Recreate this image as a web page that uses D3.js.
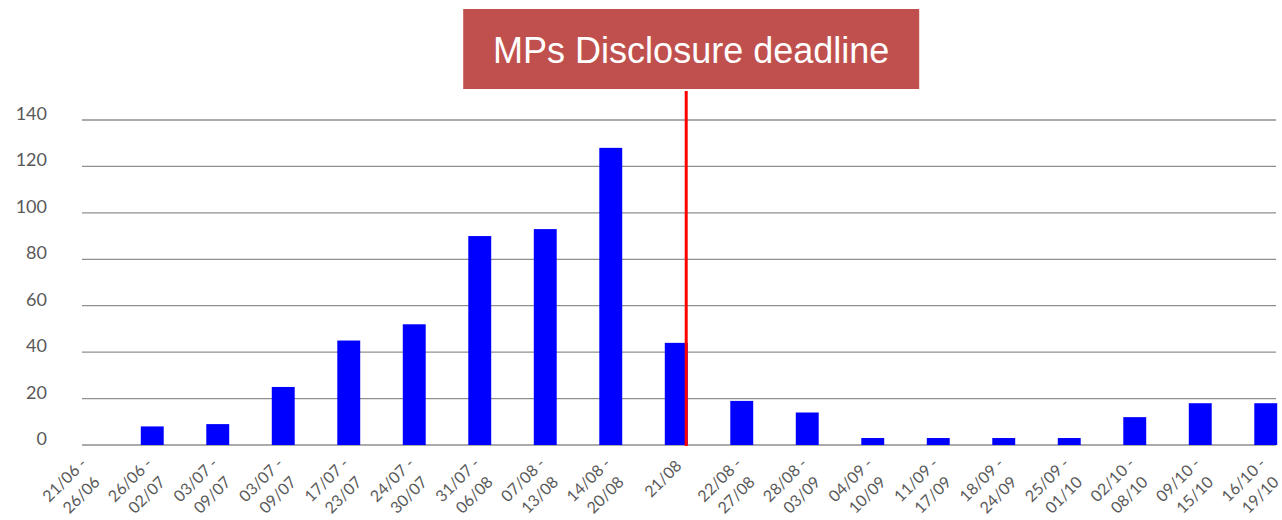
<!DOCTYPE html>
<html>
<head>
<meta charset="utf-8">
<script src="https://cdn.jsdelivr.net/npm/d3@7"></script>
<style>
  html, body { margin: 0; padding: 0; background: #ffffff; }
  svg { display: block; }
</style>
</head>
<body>
<svg id="chart" width="1282" height="520"></svg>
<script>
// ---- data ----
const categories = [
  "21/06 -|26/06", "26/06 -|02/07", "03/07 -|09/07", "03/07 -|09/07",
  "17/07 -|23/07", "24/07 -|30/07", "31/07 -|06/08", "07/08 -|13/08",
  "14/08 -|20/08", "21/08", "22/08 -|27/08", "28/08 -|03/09",
  "04/09 -|10/09", "11/09 -|17/09", "18/09 -|24/09", "25/09 -|01/10",
  "02/10 -|08/10", "09/10 -|15/10", "16/10 -|19/10"
];
const values = [0, 8, 9, 25, 45, 52, 90, 93, 128, 44, 19, 14, 3, 3, 3, 3, 12, 18, 18];
const yTicks = [0, 20, 40, 60, 80, 100, 120, 140];
const deadlineCategory = "21/08";
const deadlineLabel = "MPs Disclosure deadline";

// ---- layout ----
const svg = d3.select("#chart");
const ids = categories.map((c, i) => i);

const x = d3.scaleBand()
  .domain(ids)
  .range([54, 54 + 19 * 65.5])
  .paddingInner(0.65)
  .paddingOuter(0.325);

const y = d3.scaleLinear().domain([0, 140]).range([445, 120]);

const gridX0 = 82, gridX1 = 1276;

// gridlines
svg.append("g").selectAll("line")
  .data(yTicks)
  .join("line")
  .attr("x1", gridX0).attr("x2", gridX1)
  .attr("y1", d => y(d)).attr("y2", d => y(d))
  .attr("stroke", "#8f8f8f")
  .attr("stroke-width", 1.3);

// y tick labels
svg.append("g").selectAll("text")
  .data(yTicks)
  .join("text")
  .attr("x", 47)
  .attr("y", d => y(d))
  .attr("text-anchor", "end")
  .attr("font-family", "Lato, 'Noto Sans', sans-serif")
  .attr("font-size", 18)
  .attr("fill", "#595959")
  .text(d => d);

// bars
svg.append("g").selectAll("rect")
  .data(values.map((v, i) => ({ v, i })))
  .join("rect")
  .attr("x", d => x(d.i))
  .attr("width", x.bandwidth())
  .attr("y", d => y(d.v))
  .attr("height", d => y(0) - y(d.v))
  .attr("fill", "#0000ff");

// x labels
const xl = svg.append("g").selectAll("g")
  .data(categories.map((c, i) => ({ c, i })))
  .join("g")
  .attr("transform", d => `translate(${x(d.i) + x.bandwidth() / 2},445) rotate(-45)`);

xl.each(function(d) {
  const g = d3.select(this);
  const lines = d.c.split("|");
  const t = g.append("text")
    .attr("text-anchor", "end")
    .attr("font-family", "Lato, 'Noto Sans', sans-serif")
    .attr("font-size", 16)
    .attr("fill", "#595959");
  if (lines.length === 1) {
    t.append("tspan").attr("x", -11).attr("y", 20).text(lines[0]);
  } else {
    t.append("tspan").attr("x", -13).attr("y", 14.5).text(lines[0]);
    t.append("tspan").attr("x", -17).attr("y", 37).text(lines[1]);
  }
});

// deadline line
const di = categories.indexOf(deadlineCategory);
const lineX = x(di) + x.bandwidth() - 1.5;
svg.append("line")
  .attr("x1", lineX).attr("x2", lineX)
  .attr("y1", 91).attr("y2", y(0) + 1)
  .attr("stroke", "#ff0000")
  .attr("stroke-width", 3);

// annotation box
const boxW = 456, boxH = 80, boxCx = lineX + 5;
svg.append("rect")
  .attr("x", boxCx - boxW / 2).attr("y", 9)
  .attr("width", boxW).attr("height", boxH)
  .attr("fill", "#c0504d");
svg.append("text")
  .attr("x", boxCx).attr("y", 63)
  .attr("text-anchor", "middle")
  .attr("font-family", "'Liberation Sans', Arial, sans-serif")
  .attr("font-size", 36)
  .attr("fill", "#ffffff")
  .text(deadlineLabel);
</script>
</body>
</html>
